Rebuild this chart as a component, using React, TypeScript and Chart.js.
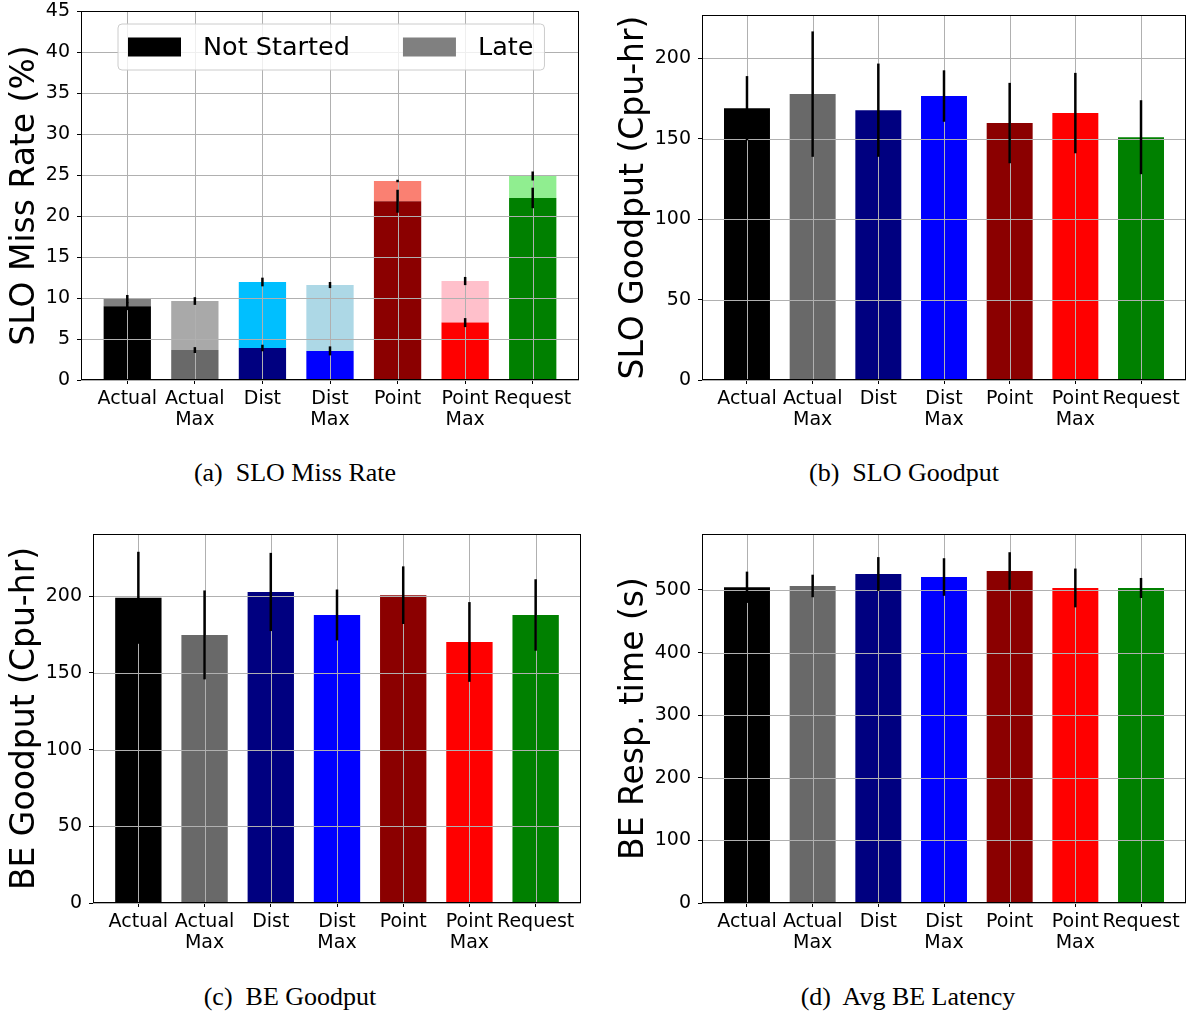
import React, { useEffect, useRef } from 'react';
import { Chart, registerables } from 'chart.js';

Chart.register(...registerables);

// ---------- data ----------
const tickLabels: (string | string[])[] = ['Actual', ['Actual', 'Max'], 'Dist', ['Dist', 'Max'], 'Point', ['Point', 'Max'], 'Request'];
const xPositions = [0, 1, 2, 3, 4, 5, 6];

const mainColors = ['#000000', '#696969', '#000080', '#0000ff', '#8b0000', '#ff0000', '#008000'];
const lateColors = ['#808080', '#a9a9a9', '#00bfff', '#add8e6', '#fa8072', '#ffc0cb', '#90ee90'];

// (a) SLO miss rate (%), stacked
const notStarted = [9.0, 3.65, 3.9, 3.55, 21.8, 7.0, 22.2];
const notStartedErr = [0.48, 0.36, 0.4, 0.55, 1.4, 0.55, 1.25];
const late = [0.87, 5.98, 8.05, 8.03, 2.47, 5.07, 2.68];
const lateErr = [0.5, 0.47, 0.53, 0.37, 0.15, 0.5, 0.55];

// (b) SLO goodput (Cpu-hr)
const sloGoodput = [169, 177.8, 167.8, 176.6, 159.8, 166, 151];
const sloGoodputErr = [20, 39, 29, 16, 25, 25, 23];

// (c) BE goodput (Cpu-hr)
const beGoodput = [199, 174.8, 202.8, 187.8, 200.7, 170.2, 187.8];
const beGoodputErr = [30, 29, 25.5, 16.6, 18.8, 26, 23.3];

// (d) BE response time (s)
const beLatency = [504.3, 506.4, 525.5, 520.7, 530.3, 503.2, 503.2];
const beLatencyErr = [25, 18, 27, 30, 30, 31, 16];

const FONT = 'DejaVu Sans';

const toXY = (vals: number[]) => vals.map((v, i) => ({ x: xPositions[i], y: v }));

// ---------- overlay plugin: grid on top of bars, error bars, frame, legend ----------
const overlayPlugin = {
  id: 'overlay',
  afterDatasetsDraw(chart: any, _args: any, opts: any) {
    const { ctx, chartArea: a, scales } = chart;
    const x = scales.x;
    const y = scales.y;
    ctx.save();
    // grid lines
    ctx.strokeStyle = '#b0b0b0';
    ctx.lineWidth = 1;
    ctx.beginPath();
    x.ticks.forEach((t: any) => {
      const px = Math.round(x.getPixelForValue(t.value)) + 0.5;
      ctx.moveTo(px, a.top);
      ctx.lineTo(px, a.bottom);
    });
    y.ticks.forEach((t: any) => {
      const py = Math.round(y.getPixelForValue(t.value)) + 0.5;
      ctx.moveTo(a.left, py);
      ctx.lineTo(a.right, py);
    });
    ctx.stroke();

    // error bars
    ctx.strokeStyle = '#000';
    ctx.lineWidth = 2.5;
    chart.data.datasets.forEach((ds: any, di: number) => {
      const errs: number[] | undefined = ds.errors;
      if (!errs) return;
      const meta = chart.getDatasetMeta(di);
      meta.data.forEach((el: any, i: number) => {
        const h = Math.abs(y.getPixelForValue(0) - y.getPixelForValue(errs[i]));
        ctx.beginPath();
        ctx.moveTo(el.x, el.y - h);
        ctx.lineTo(el.x, el.y + h);
        ctx.stroke();
      });
    });

    // frame
    ctx.strokeStyle = '#000';
    ctx.lineWidth = 1;
    ctx.strokeRect(a.left + 0.5, a.top + 0.5, a.right - a.left - 1, a.bottom - a.top - 1);

    // legend
    if (opts && opts.legend) {
      const fontSize = 25.5;
      ctx.font = `${fontSize}px "${FONT}"`;
      const fx = a.left + 37;
      const fy = a.top + 13;
      const fh = 46;
      const handleW = 53;
      const handleH = 19;
      const textGap = 22;
      const colGap = 53;
      const items = chart.data.datasets.map((ds: any) => ({ label: ds.label, color: ds.backgroundColor[0] }));
      let cx = fx + 10;
      const layout: any[] = [];
      items.forEach((it: any, i: number) => {
        const tw = ctx.measureText(it.label).width;
        layout.push({ ...it, hx: cx, tx: cx + handleW + textGap });
        cx = cx + handleW + textGap + tw + (i < items.length - 1 ? colGap : 11);
      });
      const fw = cx - fx;
      const r = 4;
      ctx.beginPath();
      ctx.moveTo(fx + r, fy);
      ctx.arcTo(fx + fw, fy, fx + fw, fy + fh, r);
      ctx.arcTo(fx + fw, fy + fh, fx, fy + fh, r);
      ctx.arcTo(fx, fy + fh, fx, fy, r);
      ctx.arcTo(fx, fy, fx + fw, fy, r);
      ctx.closePath();
      ctx.fillStyle = 'rgba(255,255,255,0.8)';
      ctx.fill();
      ctx.strokeStyle = '#cccccc';
      ctx.lineWidth = 1;
      ctx.stroke();
      const cy = fy + fh / 2;
      layout.forEach((it: any) => {
        ctx.fillStyle = it.color;
        ctx.fillRect(it.hx, cy - handleH / 2, handleW, handleH);
        ctx.fillStyle = '#000';
        ctx.textBaseline = 'middle';
        ctx.textAlign = 'left';
        ctx.fillText(it.label, it.tx, cy + 1);
      });
    }
    ctx.restore();
  },
};

type Area = { top: number; right: number; yWidth: number; xHeight: number; titlePad: number };

function buildConfig(datasets: any[], yMax: number, yStep: number, yTitle: string, area: Area, legend: boolean) {
  return {
    type: 'bar',
    data: { datasets },
    plugins: [overlayPlugin],
    options: {
      animation: false,
      responsive: false,
      maintainAspectRatio: false,
      devicePixelRatio: 1,
      layout: { padding: { left: 0, top: area.top, right: area.right, bottom: 0 } },
      plugins: {
        legend: { display: false },
        tooltip: { enabled: false },
        overlay: { legend },
      },
      datasets: { bar: { barPercentage: 0.7, categoryPercentage: 1.0, borderWidth: 0 } },
      scales: {
        x: {
          type: 'linear',
          min: -0.685,
          max: 6.685,
          offset: false,
          stacked: true,
          afterBuildTicks: (s: any) => {
            s.ticks = xPositions.map((v) => ({ value: v }));
          },
          afterFit: (s: any) => {
            s.height = area.xHeight;
            s.paddingLeft = 0;
            s.paddingRight = 0;
          },
          ticks: {
            autoSkip: false,
            maxRotation: 0,
            minRotation: 0,
            padding: 4,
            color: '#000',
            font: { family: FONT, size: 19, lineHeight: 1.12 },
            callback: (v: any) => {
              const i = xPositions.indexOf(Math.round(Number(v)));
              return i >= 0 ? tickLabels[i] : '';
            },
          },
          grid: { display: true, drawOnChartArea: false, drawTicks: true, tickLength: 4, color: '#000', offset: false },
          border: { display: false },
        },
        y: {
          type: 'linear',
          min: 0,
          max: yMax,
          stacked: true,
          afterFit: (s: any) => {
            s.width = area.yWidth;
            s.paddingTop = 0;
            s.paddingBottom = 0;
          },
          ticks: {
            stepSize: yStep,
            includeBounds: false,
            padding: 7,
            color: '#000',
            font: { family: FONT, size: 19 },
          },
          grid: { display: true, drawOnChartArea: false, drawTicks: true, tickLength: 4, color: '#000' },
          border: { display: false },
          title: {
            display: true,
            text: yTitle,
            color: '#000',
            font: { family: FONT, size: 33 },
            padding: { top: area.titlePad, bottom: 0 },
          },
        },
      },
    },
  };
}

function ChartBox({ config, left, top, width, height }: any) {
  const ref = useRef<HTMLCanvasElement | null>(null);
  useEffect(() => {
    if (!ref.current) return;
    const chart = new Chart(ref.current, config as any);
    return () => chart.destroy();
  }, []);
  return (
    <canvas
      ref={ref}
      width={width}
      height={height}
      style={{ position: 'absolute', left, top, width, height }}
    />
  );
}

function Caption({ text, center, top }: { text: string; center: number; top: number }) {
  return (
    <div
      style={{
        position: 'absolute',
        left: center - 200,
        width: 400,
        top,
        textAlign: 'center',
        fontFamily: '"Liberation Serif", serif',
        fontSize: 26,
        lineHeight: '30px',
        whiteSpace: 'pre',
        color: '#000',
      }}
    >
      {text}
    </div>
  );
}

export default function App() {
  const cfgA = buildConfig(
    [
      { label: 'Not Started', data: toXY(notStarted), backgroundColor: mainColors, errors: notStartedErr },
      { label: 'Late', data: toXY(late), backgroundColor: lateColors, errors: lateErr },
    ],
    45,
    5,
    'SLO Miss Rate (%)',
    { top: 11, right: 11, yWidth: 81, xHeight: 70, titlePad: 6 },
    true
  );
  const cfgB = buildConfig(
    [{ label: 'SLO Goodput', data: toXY(sloGoodput), backgroundColor: mainColors, errors: sloGoodputErr }],
    227,
    50,
    'SLO Goodput (Cpu-hr)',
    { top: 15, right: 1, yWidth: 102, xHeight: 70, titlePad: 15 },
    false
  );
  const cfgC = buildConfig(
    [{ label: 'BE Goodput', data: toXY(beGoodput), backgroundColor: mainColors, errors: beGoodputErr }],
    240.6,
    50,
    'BE Goodput (Cpu-hr)',
    { top: 14, right: 9, yWidth: 93, xHeight: 67, titlePad: 6 },
    false
  );
  const cfgD = buildConfig(
    [{ label: 'BE Resp. time', data: toXY(beLatency), backgroundColor: mainColors, errors: beLatencyErr }],
    589.4,
    100,
    'BE Resp. time (s)',
    { top: 14, right: 1, yWidth: 102, xHeight: 67, titlePad: 15 },
    false
  );

  return (
    <div
      style={{
        position: 'absolute',
        left: 0,
        top: 0,
        width: 1187,
        height: 1015,
        background: '#fff',
        overflow: 'hidden',
      }}
    >
      <ChartBox config={cfgA} left={0} top={0} width={590} height={450} />
      <ChartBox config={cfgB} left={600} top={0} width={587} height={450} />
      <ChartBox config={cfgC} left={0} top={520} width={590} height={450} />
      <ChartBox config={cfgD} left={600} top={520} width={587} height={450} />
      <Caption text="(a)  SLO Miss Rate" center={295} top={458} />
      <Caption text="(b)  SLO Goodput" center={904} top={458} />
      <Caption text="(c)  BE Goodput" center={290} top={982} />
      <Caption text="(d)  Avg BE Latency" center={908} top={982} />
    </div>
  );
}
